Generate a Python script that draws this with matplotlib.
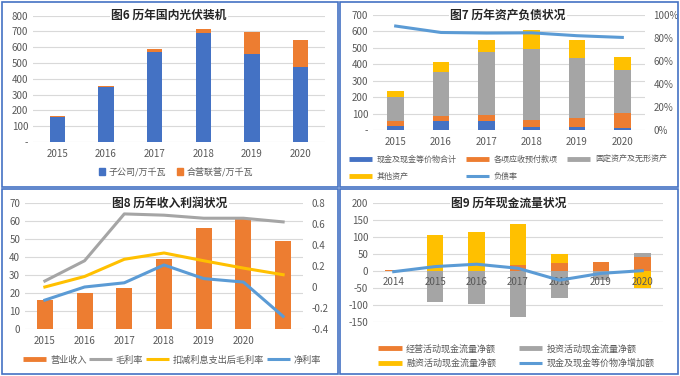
import matplotlib
matplotlib.use("Agg")
import matplotlib.pyplot as plt
from matplotlib.lines import Line2D
from matplotlib.patches import Patch, Rectangle
import numpy as np

plt.rcParams['font.family'] = ['Noto Sans CJK SC', 'DejaVu Sans']
plt.rcParams['axes.unicode_minus'] = False

# 图6 历年国内光伏装机
years6 = ['2015', '2016', '2017', '2018', '2019', '2020']
sub_co = [156, 347, 568, 688, 558, 478]
jv_co = [10, 7, 24, 30, 139, 168]

# 图7 历年资产负债状况
years7 = ['2015', '2016', '2017', '2018', '2019', '2020']
cash = [22, 53, 53, 20, 16, 10]
receivables = [35, 32, 38, 43, 55, 92]
fixed_assets = [146, 267, 383, 431, 366, 264]
other_assets = [33, 61, 75, 116, 108, 81]
debt_ratio = [0.904, 0.848, 0.843, 0.845, 0.82, 0.805]

# 图8 历年收入利润状况
years8 = ['2015', '2016', '2017', '2018', '2019', '2020', '']
revenue = [16, 20, 23, 39, 56, 61.5, 49]
gross_margin = [0.057, 0.25, 0.696, 0.684, 0.655, 0.655, 0.62]
adj_margin = [0.0, 0.1, 0.264, 0.324, 0.25, 0.18, 0.117]
net_margin = [-0.125, 0.0, 0.04, 0.21, 0.08, 0.047, -0.28]

# 图9 历年现金流量状况
years9 = ['2014', '2015', '2016', '2017', '2018', '2019', '2020']
op_cf = [1.5, 0, 0, 18, 25, 26, 40]
inv_cf = [0, -92, -97, -135, -78, -25, 12]
fin_cf = [0, 106, 116, 121, 25, 0, -51]
net_cash = [-2, 13, 20, 8, -27, -7, 1]

BLUE = '#4472C4'
ORANGE = '#ED7D31'
GRAY = '#A5A5A5'
YELLOW = '#FFC000'
LBLUE = '#5B9BD5'
TICK = '#595959'
GRID = '#D9D9D9'

W, H = 680, 376
fig = plt.figure(figsize=(6.8, 3.76), dpi=100)


def px_axes(l, t, r, b):
    return fig.add_axes([l / W, 1 - b / H, (r - l) / W, (b - t) / H])


def style(ax):
    for s in ax.spines.values():
        s.set_visible(False)
    ax.tick_params(length=0, labelsize=7, colors=TICK)
    ax.yaxis.grid(True, color=GRID, lw=0.8)
    ax.set_axisbelow(True)


def stack_signed(ax, x, series, colors, width):
    # excel style: positives stack upward, negatives downward
    pos = np.zeros(len(x))
    neg = np.zeros(len(x))
    for vals, c in zip(series, colors):
        vals = np.asarray(vals, dtype=float)
        bottom = np.where(vals >= 0, pos, neg)
        ax.bar(x, vals, width, bottom=bottom, color=c, zorder=2)
        pos = pos + np.where(vals >= 0, vals, 0)
        neg = neg + np.where(vals < 0, vals, 0)


def title(x, y, s):
    fig.text(x / W, 1 - y / H, s, ha='center', va='center',
             fontsize=8.5, fontweight='bold', color='#262626',
             bbox=dict(facecolor='white', edgecolor='none', pad=1))


def hl(c, lw=3.5):
    return Line2D([], [], color=c, lw=lw, solid_capstyle='butt')


# panel borders
for (l, t, r, b) in [(2, 2, 338, 187), (340, 2, 678, 187), (2, 189, 338, 374), (340, 189, 678, 374)]:
    fig.add_artist(Rectangle((l / W, 1 - b / H), (r - l) / W, (b - t) / H,
                             transform=fig.transFigure, fill=False,
                             edgecolor=BLUE, lw=1.2))

# ---- 图6
ax1 = px_axes(33, 15.7, 325, 142)
style(ax1)
x6 = np.arange(len(years6))
ax1.bar(x6, sub_co, 0.31, color=BLUE, zorder=2)
ax1.bar(x6, jv_co, 0.31, bottom=sub_co, color=ORANGE, zorder=2)
ax1.set_xlim(-0.5, len(years6) - 0.5)
ax1.set_ylim(0, 800)
ax1.set_yticks(range(0, 801, 100))
ax1.set_yticklabels(['-'] + [str(v) for v in range(100, 801, 100)])
ax1.set_xticks(x6)
ax1.set_xticklabels(years6)
ax1.tick_params(axis='x', pad=5)
title(169, 15, '图6 历年国内光伏装机')
fig.legend([Patch(color=BLUE), Patch(color=ORANGE)], ['子公司/万千瓦', '合营联营/万千瓦'],
           loc='center', bbox_to_anchor=(176 / W, 1 - 172 / H), ncol=2, frameon=False,
           fontsize=6.5, handlelength=0.7, handleheight=0.7, handletextpad=0.4,
           columnspacing=1.2, labelcolor=TICK)

# ---- 图7
ax2 = px_axes(373, 15, 645, 130)
style(ax2)
x7 = np.arange(len(years7))
b = np.zeros(len(x7))
for vals, c in [(cash, BLUE), (receivables, ORANGE), (fixed_assets, GRAY), (other_assets, YELLOW)]:
    ax2.bar(x7, vals, 0.37, bottom=b, color=c, zorder=2)
    b = b + np.array(vals)
ax2.set_xlim(-0.5, len(years7) - 0.5)
ax2.set_ylim(0, 700)
ax2.set_yticks(range(0, 701, 100))
ax2.set_yticklabels(['-'] + [str(v) for v in range(100, 701, 100)])
ax2.set_xticks(x7)
ax2.set_xticklabels(years7)
ax2.tick_params(axis='x', pad=5)
ax2r = ax2.twinx()
for s in ax2r.spines.values():
    s.set_visible(False)
ax2r.plot(x7, debt_ratio, color=LBLUE, lw=2.2, zorder=3)
ax2r.set_ylim(0, 1)
ax2r.set_yticks(np.arange(0, 1.01, 0.2))
ax2r.set_yticklabels([f'{int(round(v * 100))}%' for v in np.arange(0, 1.01, 0.2)])
ax2r.tick_params(length=0, labelsize=7, colors=TICK, pad=6)
title(508, 15, '图7 历年资产负债状况')
h7 = [hl(BLUE), hl(YELLOW), hl(ORANGE), hl(LBLUE, 2.2), hl(GRAY)]
l7 = ['现金及现金等价物合计', '其他资产', '各项应收预付款项', '负债率', '固定资产及无形资产']
fig.legend(h7, l7, loc='upper left', bbox_to_anchor=(342 / W, 1 - 148 / H), ncol=3,
           frameon=False, fontsize=5.8, handlelength=2.8, handletextpad=0.6,
           columnspacing=1.2, labelspacing=1.0, labelcolor=TICK)

# ---- 图8
ax3 = px_axes(25, 203, 303, 329)
style(ax3)
x8 = np.arange(len(years8))
ax3.bar(x8, revenue, 0.4, color=ORANGE, zorder=2)
ax3.set_xlim(-0.5, len(years8) - 0.5)
ax3.set_ylim(0, 70)
ax3.set_yticks(range(0, 71, 10))
ax3.set_xticks(x8)
ax3.set_xticklabels(years8)
ax3.tick_params(axis='x', pad=5)
ax3r = ax3.twinx()
for s in ax3r.spines.values():
    s.set_visible(False)
ax3r.plot(x8, gross_margin, color=GRAY, lw=2.2, zorder=3)
ax3r.plot(x8, adj_margin, color=YELLOW, lw=2.2, zorder=3)
ax3r.plot(x8, net_margin, color=LBLUE, lw=2.2, zorder=3)
ax3r.set_ylim(-0.4, 0.8)
ticks8 = [-0.4, -0.2, 0, 0.2, 0.4, 0.6, 0.8]
ax3r.set_yticks(ticks8)
ax3r.set_yticklabels(['-0.4', '-0.2', '0', '0.2', '0.4', '0.6', '0.8'])
ax3r.tick_params(length=0, labelsize=7, colors=TICK, pad=6)
title(170, 203, '图8 历年收入利润状况')
h8 = [hl(ORANGE), hl(GRAY, 2.2), hl(YELLOW, 2.2), hl(LBLUE, 2.2)]
l8 = ['营业收入', '毛利率', '扣减利息支出后毛利率', '净利率']
fig.legend(h8, l8, loc='center', bbox_to_anchor=(172 / W, 1 - 360 / H), ncol=4,
           frameon=False, fontsize=6.6, handlelength=2.5, handletextpad=0.4,
           columnspacing=0.3, labelcolor=TICK)

# ---- 图9
ax4 = px_axes(373, 203, 663, 322)
style(ax4)
x9 = np.arange(len(years9))
stack_signed(ax4, x9, [op_cf, inv_cf, fin_cf], [ORANGE, GRAY, YELLOW], 0.4)
ax4.plot(x9, net_cash, color=LBLUE, lw=2.2, zorder=4)
ax4.set_xlim(-0.5, len(years9) - 0.5)
ax4.set_ylim(-150, 200)
ax4.set_yticks(range(-150, 201, 50))
ax4.set_xticks(x9)
ax4.set_xticklabels([])
# category labels sit just under the zero line, above the bars
for xi, lab in zip(x9, years9):
    ax4.annotate(lab, (xi, 0), xytext=(0, -4), textcoords='offset points',
                 ha='center', va='top', fontsize=7, color=TICK, zorder=3)
title(509, 203, '图9 历年现金流量状况')
h9 = [hl(ORANGE), hl(YELLOW), hl(GRAY), hl(LBLUE, 2.2)]
l9 = ['经营活动现金流量净额', '融资活动现金流量净额', '投资活动现金流量净额', '现金及现金等价物净增加额']
fig.legend(h9, l9, loc='upper left', bbox_to_anchor=(370 / W, 1 - 336 / H), ncol=2,
           frameon=False, fontsize=6.5, handlelength=2.6, handletextpad=0.5,
           columnspacing=2.5, labelspacing=0.6, labelcolor=TICK)

fig.savefig('out.png', dpi=100)
